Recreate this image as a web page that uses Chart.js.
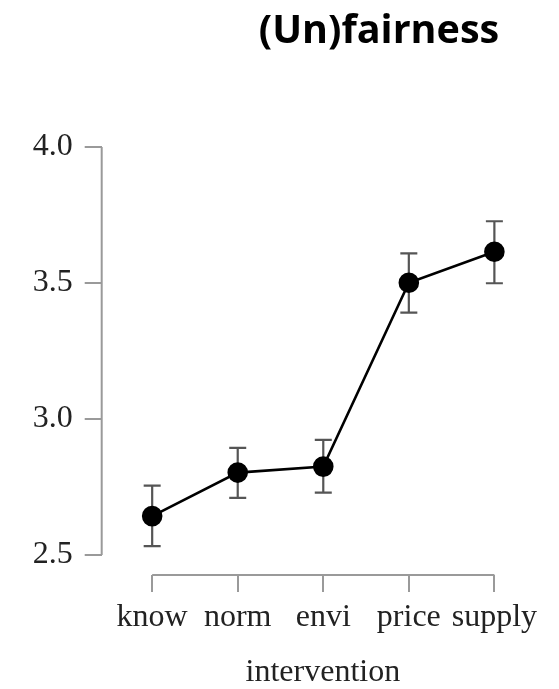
<!DOCTYPE html>
<html>
<head>
<meta charset="utf-8">
<script src="https://cdn.jsdelivr.net/npm/chart.js@4.4.1/dist/chart.umd.min.js"></script>
<style>
  body { margin: 0; background: #fff; }
</style>
</head>
<body>
<canvas id="graficoLinha" width="559" height="689"></canvas>
<script>
// === DADOS === //
const categorias = ['know', 'norm', 'envi', 'price', 'supply'];
const medias = [2.643, 2.803, 2.825, 3.501, 3.615];
const limiteInferior = [2.533, 2.710, 2.729, 3.391, 3.499];
const limiteSuperior = [2.755, 2.894, 2.923, 3.609, 3.727];
const ticksY = [2.5, 3.0, 3.5, 4.0];
const titulo = '(Un)fairness';
const tituloEixoX = 'intervention';

const fonteSerif = { family: '"Liberation Serif", "Times New Roman", serif', size: 32, lineHeight: 1 };
const corEixo = '#9a9a9a';
const corTexto = '#222';

// eixos "range frame" + barras de erro, desenhados antes dos pontos
const eixosEErros = {
    id: 'eixosEErros',
    beforeDatasetsDraw(chart) {
        const { ctx, chartArea } = chart;
        const x = chart.scales.x;
        const y = chart.scales.y;
        ctx.save();
        ctx.lineWidth = 2;
        ctx.strokeStyle = corEixo;
        ctx.beginPath();
        ctx.moveTo(chartArea.left, y.getPixelForValue(ticksY[0]));
        ctx.lineTo(chartArea.left, y.getPixelForValue(ticksY[ticksY.length - 1]));
        ctx.moveTo(x.getPixelForValue(1), chartArea.bottom);
        ctx.lineTo(x.getPixelForValue(categorias.length), chartArea.bottom);
        ctx.stroke();

        ctx.strokeStyle = '#555';
        ctx.lineWidth = 2.2;
        const meiaLargura = 8.5;
        medias.forEach((m, i) => {
            const px = x.getPixelForValue(i + 1);
            const yAlto = y.getPixelForValue(limiteSuperior[i]);
            const yBaixo = y.getPixelForValue(limiteInferior[i]);
            ctx.beginPath();
            ctx.moveTo(px, yAlto);
            ctx.lineTo(px, yBaixo);
            ctx.moveTo(px - meiaLargura, yAlto);
            ctx.lineTo(px + meiaLargura, yAlto);
            ctx.moveTo(px - meiaLargura, yBaixo);
            ctx.lineTo(px + meiaLargura, yBaixo);
            ctx.stroke();
        });
        ctx.restore();
    },
    // titulo no canto de cima
    afterDraw(chart) {
        const ctx = chart.ctx;
        ctx.save();
        ctx.fillStyle = '#000';
        ctx.font = 'bold 39.5px "Open Sans", sans-serif';
        ctx.textAlign = 'center';
        ctx.textBaseline = 'alphabetic';
        ctx.fillText(titulo, 379, 43);
        ctx.restore();
    }
};

const ctxLine = document.getElementById('graficoLinha');

new Chart(ctxLine, {
    type: 'line',
    data: {
        datasets: [{
            data: medias.map((v, i) => ({ x: i + 1, y: v })),
            borderColor: '#000',
            borderWidth: 2.6,
            pointBackgroundColor: '#000',
            pointBorderColor: '#000',
            pointRadius: 9,
            pointHoverRadius: 9,
            tension: 0
        }]
    },
    options: {
        responsive: false,
        animation: false,
        clip: false,
        layout: { padding: { top: 147, left: 20.7, right: 15, bottom: 0 } },
        plugins: {
            legend: { display: false },
            tooltip: { enabled: false }
        },
        scales: {
            x: {
                type: 'linear',
                min: 0.41,
                max: 5.58,
                afterBuildTicks: (s) => { s.ticks = categorias.map((c, i) => ({ value: i + 1 })); },
                ticks: {
                    callback: (v) => categorias[v - 1],
                    font: fonteSerif,
                    color: corTexto,
                    padding: 10,
                    autoSkip: false,
                    maxRotation: 0
                },
                grid: { drawOnChartArea: false, drawTicks: true, tickLength: 17, color: corEixo, lineWidth: 2 },
                border: { display: false },
                title: {
                    display: true,
                    text: tituloEixoX,
                    font: fonteSerif,
                    color: corTexto,
                    padding: { top: 13, bottom: 0 }
                }
            },
            y: {
                min: 2.4265,
                max: 4.0,
                afterBuildTicks: (s) => { s.ticks = ticksY.map(v => ({ value: v })); },
                ticks: {
                    callback: (v) => v.toFixed(1),
                    font: fonteSerif,
                    color: corTexto,
                    padding: 12
                },
                grid: { drawOnChartArea: false, drawTicks: true, tickLength: 17, color: corEixo, lineWidth: 2 },
                border: { display: false }
            }
        }
    },
    plugins: [eixosEErros]
});
</script>
</body>
</html>
